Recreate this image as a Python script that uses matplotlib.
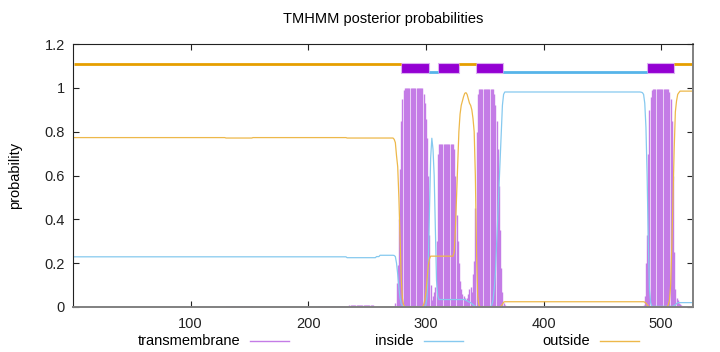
import matplotlib
matplotlib.use("Agg")
import matplotlib.pyplot as plt
from matplotlib.patches import Rectangle
from matplotlib.lines import Line2D
import numpy as np

plt.rcParams["font.family"] = ["Liberation Sans", "DejaVu Sans"]

SEQ_LEN = 527

# predicted topology (bars at the top of the plot)
TM_HELICES = [(279, 302), (311, 328), (343, 365), (488, 510)]
INSIDE_SEGS = [(303, 310), (366, 487)]
OUTSIDE_SEGS = [(1, 278), (329, 342), (511, 527)]

# posterior probabilities per residue, as blocks of (first residue, values)
tm_window_a = ([0.005, 0.02, 0.11, 0.19, 0.40, 0.63, 0.85, 0.95, 0.99]
               + [0.998] * 16
               + [0.97, 0.93, 0.86, 0.77, 0.60, 0.33, 0.10, 0.03, 0.05, 0.07, 0.09, 0.30, 0.70]
               + [0.742] * 13
               + [0.72, 0.60, 0.42, 0.30, 0.20, 0.12, 0.08, 0.06, 0.05, 0.04, 0.03,
                  0.04, 0.06, 0.08, 0.09, 0.07, 0.15, 0.21, 0.45, 0.80, 0.97]
               + [0.995] * 13
               + [0.97, 0.92, 0.85, 0.72, 0.55, 0.35, 0.18, 0.07, 0.02, 0.01]
               + [0.0] * 5)
tm_window_b = ([0.0, 0.0, 0.005, 0.01, 0.05, 0.20, 0.33, 0.70, 0.90, 0.96, 0.99]
               + [0.995] * 14
               + [0.98, 0.95, 0.85, 0.60, 0.25, 0.08, 0.04, 0.03, 0.02, 0.015, 0.01, 0.005]
               + [0.0] * 2)

in_window_a = ([0.235, 0.23, 0.20, 0.15, 0.09, 0.04, 0.015, 0.005]
               + [0.002] * 19
               + [0.01, 0.05, 0.20, 0.45, 0.68, 0.77, 0.72, 0.60, 0.35, 0.12, 0.05]
               + [0.034] * 23
               + [0.03, 0.028, 0.025, 0.022, 0.02, 0.015, 0.01, 0.006, 0.003]
               + [0.001] * 13
               + [0.01, 0.03, 0.08, 0.15, 0.28, 0.42, 0.55, 0.66, 0.80, 0.92, 0.97]
               + [0.981] * 6)
in_window_b = ([0.981, 0.98, 0.978, 0.97, 0.93, 0.82, 0.60, 0.30, 0.08, 0.02]
               + [0.003] * 19
               + [0.006, 0.01, 0.015]
               + [0.02] * 7)

out_window_a = ([0.765, 0.75, 0.69, 0.64, 0.50, 0.32, 0.13, 0.04, 0.01]
                + [0.001] * 16
                + [0.01, 0.03, 0.07, 0.13, 0.19, 0.22]
                + [0.232] * 20
                + [0.25, 0.35, 0.50, 0.65, 0.80, 0.88, 0.92, 0.94, 0.96, 0.975, 0.978,
                   0.97, 0.95, 0.93, 0.92, 0.90, 0.86, 0.80, 0.60, 0.25, 0.05, 0.01]
                + [0.001] * 18
                + [0.005, 0.012, 0.022]
                + [0.024] * 6)
out_window_b = ([0.024] * 4
                + [0.022, 0.018, 0.01, 0.004]
                + [0.001] * 16
                + [0.01, 0.03, 0.10, 0.28, 0.50, 0.72, 0.89, 0.94, 0.97, 0.978]
                + [0.985] * 5)

tm_blocks = [(1, [0.0] * 129), (130, [0.004] * 23), (153, [0.0] * 55),
             (208, [0.003] * 27), (235, [0.008] * 21), (256, [0.002] * 17),
             (273, tm_window_a), (373, [0.0] * 109), (482, tm_window_b), (521, [0.0] * 7)]
inside_blocks = [(1, [0.229] * 232), (233, [0.225] * 25), (258, [0.23] * 3),
                 (261, [0.236] * 12), (273, in_window_a), (373, [0.981] * 109),
                 (482, in_window_b), (521, [0.02] * 7)]
outside_blocks = [(1, [0.773] * 129), (130, [0.771] * 23), (153, [0.773] * 80),
                  (233, [0.771] * 40), (273, out_window_a), (373, [0.024] * 109),
                  (482, out_window_b), (521, [0.985] * 7)]


def expand(blocks):
    vals = []
    for start, part in blocks:
        assert start == len(vals) + 1, (start, len(vals))
        vals.extend(part)
    assert len(vals) == SEQ_LEN
    return np.array(vals)


residues = np.arange(1, SEQ_LEN + 1)
tm = expand(tm_blocks)
inside = expand(inside_blocks)
outside = expand(outside_blocks)

C_TM = "#9400d3"
C_IN = "#56b4e9"
C_OUT = "#e69f00"
FS = 10.5

fig = plt.figure(figsize=(7.2, 3.52), dpi=100)
ax = fig.add_axes([73 / 720, 1 - 307 / 352, 620 / 720, 263 / 352])

ax.vlines(residues, 0, tm, color="#c47ce6", lw=1.0)
ax.plot(residues, inside, color="#86c9ef", lw=0.9)
ax.plot(residues, outside, color="#edb84a", lw=0.9)

# topology bars
for a, b in OUTSIDE_SEGS:
    ax.plot([a - 0.5, b + 0.5], [1.11, 1.11], color=C_OUT, lw=2.0, solid_capstyle="butt")
for a, b in INSIDE_SEGS:
    ax.plot([a - 0.5, b + 0.5], [1.07, 1.07], color=C_IN, lw=2.0, solid_capstyle="butt")
for a, b in TM_HELICES:
    ax.add_patch(Rectangle((a - 0.5, 1.069), b - a + 1, 0.046, facecolor=C_TM,
                           edgecolor="#dcb0f2", lw=0.8))

ax.set_xlim(0, SEQ_LEN)
ax.set_ylim(0, 1.2)
ax.set_xticks([100, 200, 300, 400, 500])
ax.set_yticks([0, 0.2, 0.4, 0.6, 0.8, 1.0, 1.2])
ax.set_yticklabels(["0", "0.2", "0.4", "0.6", "0.8", "1", "1.2"])
ax.tick_params(direction="in", length=4, width=0.8, top=True, right=True,
               labelsize=FS, pad=6, colors="#222222")
ax.tick_params(axis="x", pad=7)
for side in ("left", "top"):
    ax.spines[side].set_color("#222222")
    ax.spines[side].set_linewidth(0.8)
for side in ("bottom", "right"):
    ax.spines[side].set_color("#808080")
    ax.spines[side].set_linewidth(1.4)

fig.text(383 / 720, 1 - 19 / 352, "TMHMM posterior probabilities", ha="center",
         va="center", fontsize=FS)
fig.text(15 / 720, 1 - 175 / 352, "probability", rotation=90, ha="center",
         va="center", fontsize=FS)

# legend row under the plot
legend_items = [("transmembrane", "#c47ce6", 240, 250),
                ("inside", "#86c9ef", 414, 424),
                ("outside", "#edb84a", 590, 600)]
for label, col, text_right, line_left in legend_items:
    fig.text(text_right / 720, 1 - 341 / 352, label, ha="right", va="center", fontsize=FS)
    fig.add_artist(Line2D([line_left / 720, (line_left + 39) / 720],
                          [1 - 341 / 352, 1 - 341 / 352], color=col, lw=1.0))

fig.savefig("out.png", dpi=100)
